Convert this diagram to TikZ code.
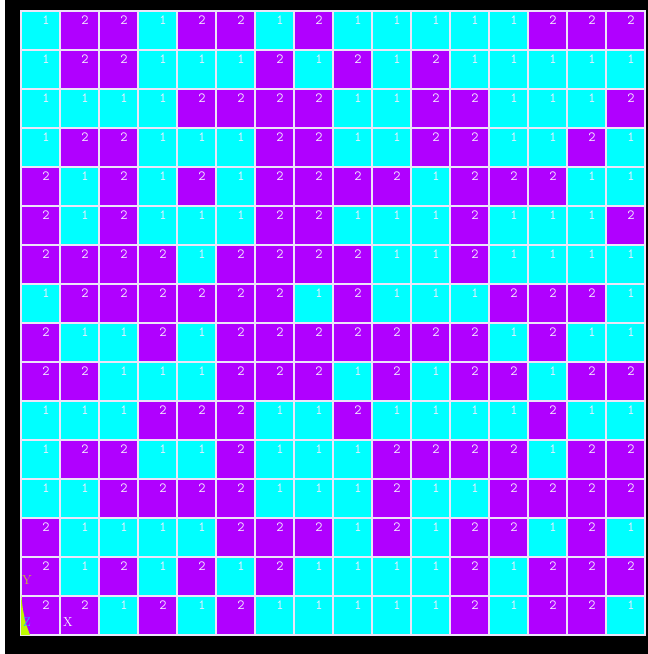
\documentclass[tikz,border=0pt]{standalone}
\usepackage{tikz}
\usetikzlibrary{positioning,calc}

\definecolor{matcyan}{RGB}{0,255,255}
\definecolor{matpurple}{RGB}{176,0,255}
\definecolor{gridline}{RGB}{236,228,248}
\definecolor{numtext}{RGB}{246,236,255}
\definecolor{triad}{RGB}{188,250,0}
\definecolor{ylabel}{RGB}{200,200,40}
\definecolor{zlabel}{RGB}{40,170,255}

\begin{document}
\begin{tikzpicture}[
    x=1pt, y=-1pt,
    mat1/.style={rectangle, draw=gridline, line width=1.2pt, fill=matcyan, minimum size=39pt, inner sep=0pt},
    mat2/.style={rectangle, draw=gridline, line width=1.2pt, fill=matpurple, minimum size=39pt, inner sep=0pt},
    num/.style={text=numtext, font=\ttfamily\fontsize{14}{14}\selectfont, inner sep=0pt},
    axis/.style={font=\fontsize{13}{13}\selectfont, inner sep=0pt}
]
    % background and frame
    \useasboundingbox (0,0) rectangle (648,654);
    \fill[white] (0,0) rectangle (648,654);
    \fill[black] (5,0) rectangle (648,654);

    % material numbers, row by row from the top
    \foreach \row [count=\r] in {
        {1,2,2,1,2,2,1,2,1,1,1,1,1,2,2,2},
        {1,2,2,1,1,1,2,1,2,1,2,1,1,1,1,1},
        {1,1,1,1,2,2,2,2,1,1,2,2,1,1,1,2},
        {1,2,2,1,1,1,2,2,1,1,2,2,1,1,2,1},
        {2,1,2,1,2,1,2,2,2,2,1,2,2,2,1,1},
        {2,1,2,1,1,1,2,2,1,1,1,2,1,1,1,2},
        {2,2,2,2,1,2,2,2,2,1,1,2,1,1,1,1},
        {1,2,2,2,2,2,2,1,2,1,1,1,2,2,2,1},
        {2,1,1,2,1,2,2,2,2,2,2,2,1,2,1,1},
        {2,2,1,1,1,2,2,2,1,2,1,2,2,1,2,2},
        {1,1,1,2,2,2,1,1,2,1,1,1,1,2,1,1},
        {1,2,2,1,1,2,1,1,1,2,2,2,2,1,2,2},
        {1,1,2,2,2,2,1,1,1,2,1,1,2,2,2,2},
        {2,1,1,1,1,2,2,2,1,2,1,2,2,1,2,1},
        {2,1,2,1,2,1,2,1,1,1,1,2,1,2,2,2},
        {2,2,1,2,1,2,1,1,1,1,1,2,1,2,2,1}} {
        \foreach \v [count=\c] in \row {
            \node[mat\v] (c-\r-\c) at ({1.5+39*\c},{-8.5+39*\r}) {};
            \node[num] (n-\r-\c) at ($(c-\r-\c.center)+(5.5,-10)$) {\v};
        }
    }

    % triad
    \fill[triad] (21,594) -- (23,610) -- (26,624) -- (30,635) -- (21,635) -- cycle;
    \node[axis, text=ylabel] (axy) at (27,580) {Y};
    \node[axis, text=zlabel] (axz) at (27,622) {Z};
    \node[axis, text=white] (axx) at (68,622) {X};
\end{tikzpicture}
\end{document}
